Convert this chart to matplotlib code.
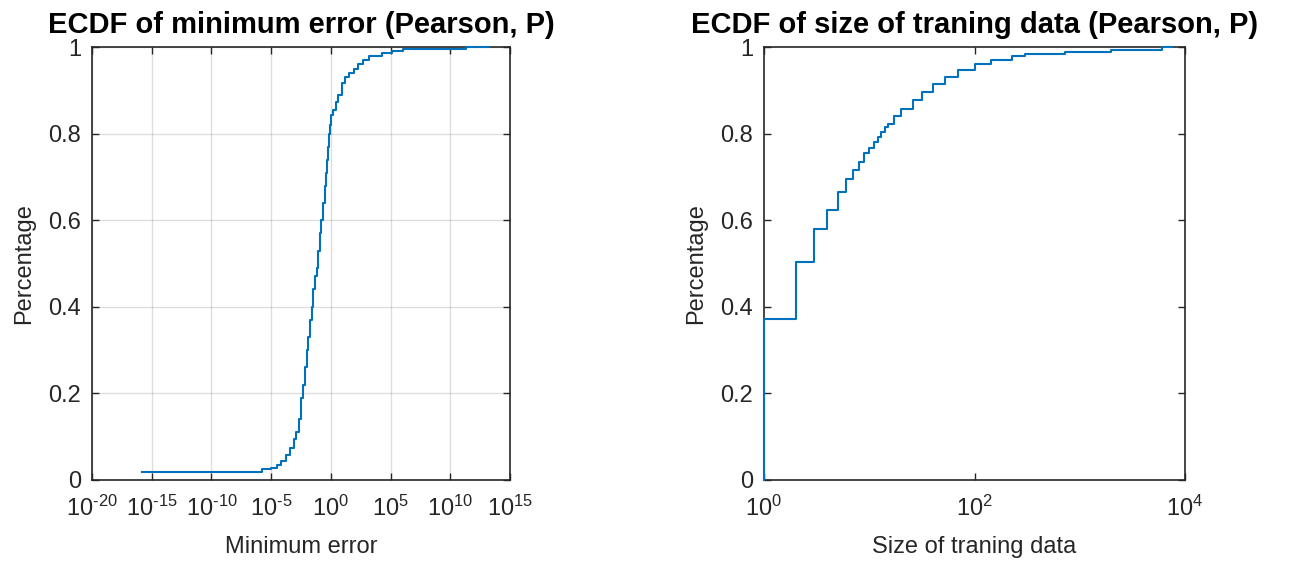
import matplotlib
matplotlib.use("Agg")
import matplotlib.pyplot as plt
from matplotlib.ticker import FixedLocator, NullLocator

# ECDF of the minimum error (step points: error value, cumulative fraction)
err_x = [1.6e-16, 1.8e-6, 1e-5, 3.2e-5, 6.3e-5, 1.8e-4, 4e-4, 8e-4, 1.3e-3, 2e-3,
         3.2e-3, 4.5e-3, 6.3e-3, 1e-2, 1.3e-2, 1.8e-2, 2.5e-2, 3.5e-2, 5e-2, 6.3e-2,
         8.9e-2, 0.126, 0.158, 0.224, 0.316, 0.398, 0.5, 0.63, 0.71, 0.89,
         1.0, 1.4, 2.5, 4, 8, 16, 32, 80, 200, 500,
         1600, 1.8e4, 1.3e5, 1e6, 2e11, 1.6e13]
err_y = [0.018, 0.025, 0.028, 0.035, 0.045, 0.058, 0.075, 0.095, 0.11, 0.14,
         0.19, 0.22, 0.26, 0.30, 0.33, 0.37, 0.40, 0.44, 0.47, 0.49,
         0.53, 0.57, 0.60, 0.64, 0.68, 0.71, 0.74, 0.77, 0.80, 0.82,
         0.843, 0.855, 0.873, 0.89, 0.917, 0.93, 0.94, 0.95, 0.96, 0.97,
         0.98, 0.985, 0.99, 0.995, 1.0, 1.0]

# ECDF of the training-set size
size_x = [1, 1, 2, 3, 4, 5, 6, 7, 8, 9, 10, 11, 12, 13, 14, 15, 17, 20, 26, 32,
          40, 53, 70, 100, 145, 225, 300, 720, 1970, 6000, 7550]
size_y = [0.0, 0.372, 0.503, 0.58, 0.624, 0.666, 0.695, 0.716, 0.735, 0.755,
          0.767, 0.781, 0.793, 0.804, 0.815, 0.822, 0.84, 0.857, 0.877, 0.897,
          0.914, 0.931, 0.948, 0.96, 0.97, 0.98, 0.984, 0.988, 0.993, 1.0, 1.0]

y_ticks = [0, 0.2, 0.4, 0.6, 0.8, 1]
y_tick_labels = ["0", "0.2", "0.4", "0.6", "0.8", "1"]
left_x_ticks = [1e-20, 1e-15, 1e-10, 1e-5, 1e0, 1e5, 1e10, 1e15]
left_x_labels = ["$10^{\u201020}$", "$10^{\u201015}$", "$10^{\u201010}$",
                 "$10^{\u20105}$", "$10^{0}$", "$10^{5}$", "$10^{10}$", "$10^{15}$"]
right_x_ticks = [1e0, 1e2, 1e4]
right_x_labels = ["$10^{0}$", "$10^{2}$", "$10^{4}$"]

plt.rcParams["font.family"] = ["Liberation Sans", "DejaVu Sans"]
plt.rcParams["mathtext.fontset"] = "custom"
plt.rcParams["mathtext.rm"] = "Liberation Sans"
plt.rcParams["mathtext.default"] = "regular"

AX_COLOR = "#262626"
LINE_COLOR = "#0072BD"
LABEL_SIZE = 17
TITLE_SIZE = 21

fig = plt.figure(figsize=(13.02, 5.65), dpi=100)
ax1 = fig.add_axes([92 / 1302, 1 - 480 / 565, 418 / 1302, 433 / 565])
ax2 = fig.add_axes([764 / 1302, 1 - 480 / 565, 421 / 1302, 433 / 565])


def style(ax, xticks, xlabels, xlim):
    ax.set_xscale("log")
    ax.set_xlim(*xlim)
    ax.set_ylim(0, 1)
    ax.xaxis.set_major_locator(FixedLocator(xticks))
    ax.xaxis.set_minor_locator(NullLocator())
    ax.set_xticklabels(xlabels)
    ax.set_yticks(y_ticks)
    ax.set_yticklabels(y_tick_labels)
    ax.tick_params(direction="in", top=True, right=True, length=5, width=1,
                   color=AX_COLOR, labelcolor=AX_COLOR, labelsize=LABEL_SIZE)
    ax.tick_params(axis="y", pad=8)
    ax.tick_params(axis="x", pad=11)
    for s in ax.spines.values():
        s.set_color(AX_COLOR)
        s.set_linewidth(1.2)
    ax.set_ylabel("Percentage", fontsize=LABEL_SIZE, color=AX_COLOR, labelpad=9)


style(ax1, left_x_ticks, left_x_labels, (1e-20, 1e15))
ax1.grid(True, color="#262626", alpha=0.15, linewidth=1)
ax1.set_axisbelow(True)
ax1.step(err_x, err_y, where="post", color=LINE_COLOR, linewidth=1.5,
         zorder=3, clip_on=False)
ax1.set_xlabel("Minimum error", fontsize=LABEL_SIZE, color=AX_COLOR, labelpad=11)
ax1.set_title("ECDF of minimum error (Pearson, P)", fontsize=TITLE_SIZE,
              fontweight="bold", color="black", pad=10)

style(ax2, right_x_ticks, right_x_labels, (1, 1e4))
ax2.step(size_x, size_y, where="post", color=LINE_COLOR, linewidth=1.5,
         zorder=3, clip_on=False)
ax2.set_xlabel("Size of traning data", fontsize=LABEL_SIZE, color=AX_COLOR, labelpad=11)
ax2.set_title("ECDF of size of traning data (Pearson, P)", fontsize=TITLE_SIZE,
              fontweight="bold", color="black", pad=10)

fig.savefig("out.png", dpi=100, facecolor="white")
